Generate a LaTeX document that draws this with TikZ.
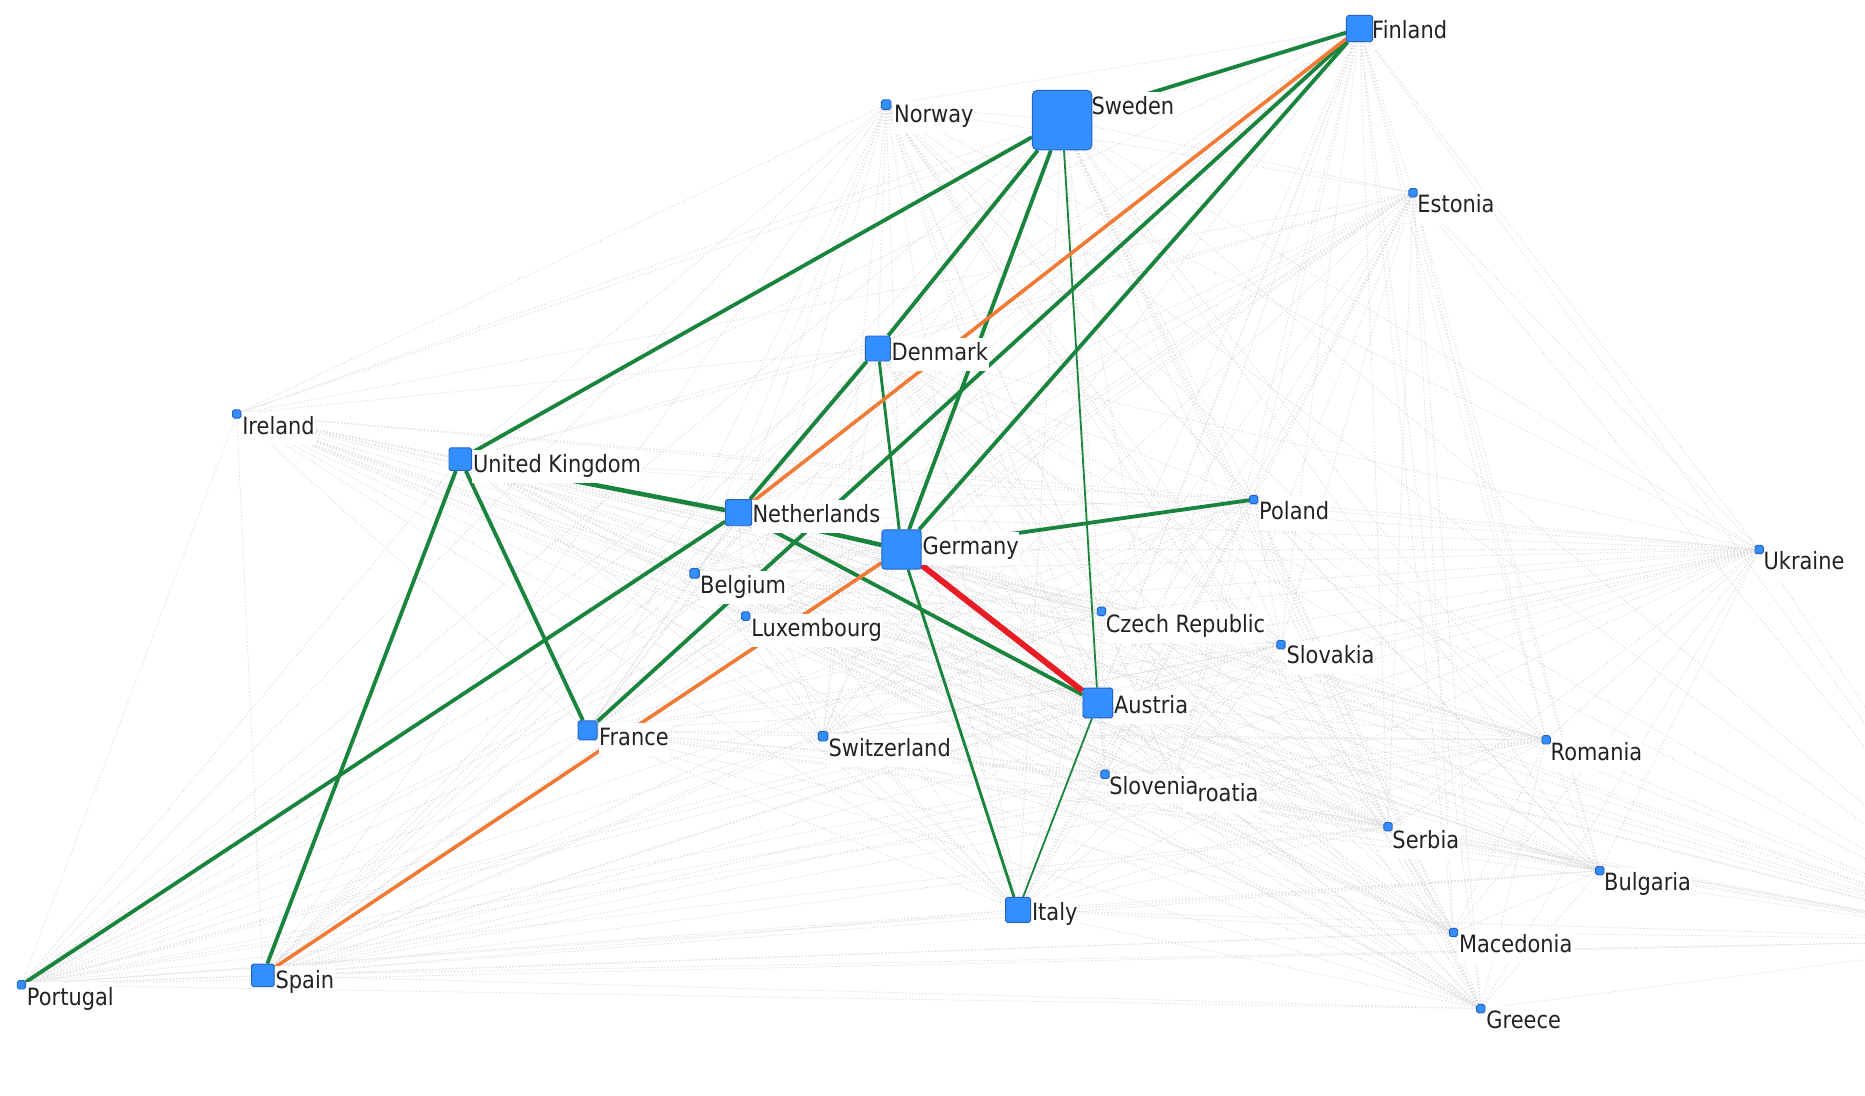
\documentclass[tikz,border=0pt]{standalone}
\usepackage{fontspec}
\setmainfont{DejaVu Sans}[FakeStretch=0.88]
\definecolor{edgegreen}{RGB}{24,132,62}
\definecolor{edgeorange}{RGB}{242,122,52}
\definecolor{edgered}{RGB}{232,28,36}
\definecolor{nodefill}{RGB}{51,143,255}
\definecolor{nodeline}{RGB}{38,98,196}
\definecolor{faint}{RGB}{222,222,222}
\definecolor{lbltext}{RGB}{34,34,34}
\pgfdeclarelayer{edges}
\pgfdeclarelayer{labels}
\pgfsetlayers{edges,labels,main}
\begin{document}
\begin{tikzpicture}[x=1pt,y=-1pt,
  country/.style={rectangle, fill=nodefill, draw=nodeline, line width=0.8pt, rounded corners=1.5pt, inner sep=0pt, minimum size=#1},
  country/.default=7pt,
  lbl/.style={anchor=west, fill=white, inner xsep=0.5pt, inner ysep=5pt, text height=14pt, text depth=4pt, text=lbltext, font=\fontsize{20}{22}\selectfont},
  ghost/.style={draw=faint, line width=0.7pt, dash pattern=on 1.2pt off 1.6pt},
  gthick/.style={draw=edgegreen, line width=3.2pt},
  gmid/.style={draw=edgegreen, line width=2.4pt},
  gthin/.style={draw=edgegreen, line width=1.5pt},
  oline/.style={draw=edgeorange, line width=3pt},
  rline/.style={draw=edgered, line width=5pt}
]
\useasboundingbox (0,0) rectangle (1568,921);

% country squares
\node[country=22pt] (fin) at (1143,24) {};
\node[country=50pt, rounded corners=4pt] (swe) at (893,101) {};
\node[country=8pt] (nor) at (745,88) {};
\node[country] (est) at (1188,162) {};
\node[country=21pt] (den) at (738,293) {};
\node[country] (ire) at (199,348) {};
\node[country=19pt] (uk) at (387,386) {};
\node[country=22pt] (nl) at (621,431) {};
\node[country=33pt, rounded corners=2.5pt] (ger) at (758,462) {};
\node[country] (pol) at (1054,420) {};
\node[country] (ukr) at (1479,462) {};
\node[country=8pt] (bel) at (584,482) {};
\node[country] (lux) at (627,518) {};
\node[country] (cze) at (926,514) {};
\node[country] (svk) at (1077,542) {};
\node[country=25pt] (aut) at (923,591) {};
\node[country=16pt] (fra) at (494,614) {};
\node[country=8pt] (sui) at (692,619) {};
\node[country] (rom) at (1300,622) {};
\node[country] (slo) at (929,651) {};
\coordinate (cro) at (987,658);
\node[country] (srb) at (1167,695) {};
\node[country] (bul) at (1345,732) {};
\node[country=21pt] (ita) at (856,765) {};
\node[country] (mac) at (1222,784) {};
\node[country] (gre) at (1245,848) {};
\node[country=19pt] (esp) at (221,820) {};
\node[country] (por) at (18,828) {};
\coordinate (tur) at (1700,790);

% labels
\begin{pgfonlayer}{labels}
\node[lbl] (finL) at (1153,27) {Finland};
\node[lbl] (sweL) at (917,91) {Sweden};
\node[lbl] (norL) at (751,98) {Norway};
\node[lbl] (estL) at (1191,174) {Estonia};
\node[lbl] (denL) at (749,298) {Denmark};
\node[lbl] (ireL) at (203,360) {Ireland};
\node[lbl] (ukL) at (397,392) {United Kingdom};
\node[lbl] (nlL) at (632,434) {Netherlands};
\node[lbl] (gerL) at (775,461) {Germany};
\node[lbl] (polL) at (1058,432) {Poland};
\node[lbl] (ukrL) at (1482,474) {Ukraine};
\node[lbl] (belL) at (588,494) {Belgium};
\node[lbl] (luxL) at (631,530) {Luxembourg};
\node[lbl] (czeL) at (929,527) {Czech Republic};
\node[lbl] (svkL) at (1081,553) {Slovakia};
\node[lbl] (autL) at (936,595) {Austria};
\node[lbl] (fraL) at (503,622) {France};
\node[lbl] (suiL) at (696,631) {Switzerland};
\node[lbl] (romL) at (1303,634) {Romania};
\node[lbl] (croL) at (994,669) {Croatia};
\node[lbl, inner ysep=3pt] (sloL) at (932,663) {Slovenia};
\node[lbl] (srbL) at (1170,708) {Serbia};
\node[lbl] (bulL) at (1348,744) {Bulgaria};
\node[lbl] (itaL) at (867,769) {Italy};
\node[lbl] (macL) at (1226,796) {Macedonia};
\node[lbl] (greL) at (1249,860) {Greece};
\node[lbl] (espL) at (231,826) {Spain};
\node[lbl] (porL) at (22,840) {Portugal};
\end{pgfonlayer}

\begin{pgfonlayer}{edges}
  \fill[white] (0,0) rectangle (1568,921);
  \clip (0,0) rectangle (1568,921);
  % faint dotted links between all countries
  \foreach \a [count=\i] in {fin,swe,nor,est,den,ire,uk,nl,ger,pol,ukr,bel,lux,cze,svk,aut,fra,sui,rom,slo,cro,srb,bul,ita,mac,gre,esp,por,tur} {
    \foreach \b [count=\j] in {fin,swe,nor,est,den,ire,uk,nl,ger,pol,ukr,bel,lux,cze,svk,aut,fra,sui,rom,slo,cro,srb,bul,ita,mac,gre,esp,por,tur} {
      \ifnum\j>\i \draw[ghost] (\a) -- (\b); \fi
    }
  }
  % strong links
  \draw[gthick] (fin) -- (swe);
  \draw[gthick] (fin) -- (fra);
  \draw[gthick] (fin) -- (ger);
  \draw[gthick] (swe) -- (uk);
  \draw[gthick] (swe) -- (den);
  \draw[gthick] (swe) -- (ger);
  \draw[gthin] (swe) -- (aut);
  \draw[gthick, line width=3.8pt] (uk) -- (nl);
  \draw[gthick] (uk) -- (esp);
  \draw[gthick] (uk) -- (fra);
  \draw[gthick] (den) -- (nl);
  \draw[gmid] (den) -- (ger);
  \draw[gthick, line width=3.8pt] (nl) -- (ger);
  \draw[gthick] (nl) -- (aut);
  \draw[gthick] (nl) -- (por);
  \draw[gthick] (ger) -- (pol);
  \draw[gmid] (ger) -- (ita);
  \draw[gthin] (aut) -- (ita);
  \draw[oline] (fin) -- (nl);
  \draw[oline] (ger) -- (esp);
  \draw[rline] (ger) -- (aut);
\end{pgfonlayer}
\end{tikzpicture}
\end{document}
